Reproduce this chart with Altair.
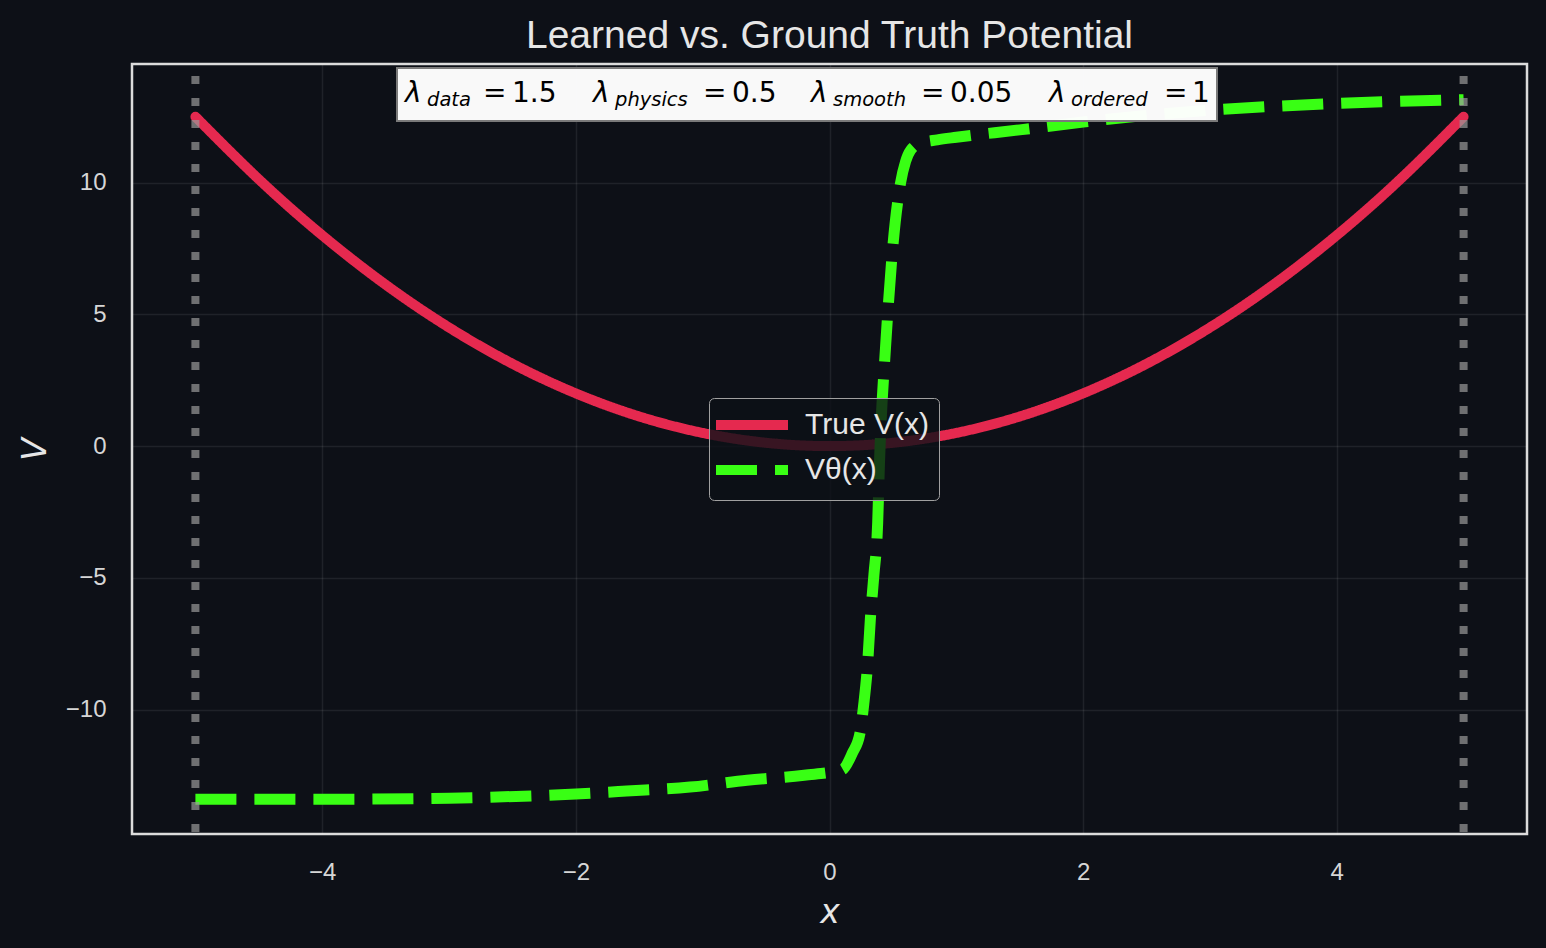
import altair as alt
import pandas as pd

# ---- data ----
true_x = [-5.0, -4.5, -4.0, -3.5, -3.0, -2.5, -2.0, -1.5, -1.0, -0.5, 0.0,
          0.5, 1.0, 1.5, 2.0, 2.5, 3.0, 3.5, 4.0, 4.5, 5.0]
true_v = [12.5, 10.125, 8.0, 6.125, 4.5, 3.125, 2.0, 1.125, 0.5, 0.125, 0.0,
          0.125, 0.5, 1.125, 2.0, 3.125, 4.5, 6.125, 8.0, 10.125, 12.5]

learn_x = [-5.0, -4.0, -3.0, -2.0, -1.6, -1.1, -0.65, -0.2, 0.1, 0.18, 0.24,
           0.27, 0.3, 0.323, 0.35, 0.38, 0.394, 0.442, 0.465, 0.5, 0.56, 0.6,
           0.64, 0.72, 0.85, 1.0, 1.5, 2.0, 3.0, 4.0, 5.0]
learn_v = [-13.4, -13.4, -13.36, -13.2, -13.09, -12.94, -12.68, -12.49, -12.28,
           -11.65, -10.9, -9.8, -8.3, -6.5, -4.9, -2.9, -0.65, 3.76, 5.43, 7.6,
           9.98, 10.8, 11.23, 11.5, 11.62, 11.72, 12.0, 12.3, 12.75, 13.0, 13.15]

boundary_x = [-5.0, 5.0]

series_names = ["True V(x)", "Vθ(x)"]

lambda_names = ["data", "physics", "smooth", "ordered"]
lambda_values = ["1.5", "0.5", "0.05", "1"]

x_ticks = [-4, -2, 0, 2, 4]
y_ticks = [-10, -5, 0, 5, 10]

# ---- styling / layout ----
BG = "#0d1017"
RED = "#e5294f"
GREEN = "#39ff14"
W, H = 1395, 770

df_true = pd.DataFrame({"x": true_x, "v": true_v, "series": series_names[0]})
df_learn = pd.DataFrame({"x": learn_x, "v": learn_v, "series": series_names[1]})
df_bound = pd.DataFrame({"x": boundary_x})

xscale = alt.Scale(domain=[-5.5, 5.5], nice=False, zero=False)
yscale = alt.Scale(domain=[-14.72, 14.5], nice=False, zero=False)

color = alt.Color("series:N",
                  scale=alt.Scale(domain=series_names, range=[RED, GREEN]),
                  legend=alt.Legend(title=None, orient="none", legendX=577, legendY=334,
                                    symbolType="M-3,0H3", symbolSize=576,
                                    symbolOffset=16,
                                    symbolStrokeWidth=10, labelFont="Liberation Sans",
                                    labelFontSize=30, labelColor="#e6e6e6",
                                    labelOffset=36, fillColor="rgba(13,16,23,0.8)",
                                    strokeColor="#a0a0a0",
                                    cornerRadius=5, padding=10, rowPadding=5))
dash = alt.StrokeDash("series:N",
                      scale=alt.Scale(domain=series_names, range=[[1, 0], [41, 18]]),
                      legend=None)

xenc = alt.X("x:Q", scale=xscale,
             axis=alt.Axis(values=x_ticks, title="x", grid=True, format="d"))
yenc = alt.Y("v:Q", scale=yscale,
             axis=alt.Axis(values=y_ticks, title="V", grid=True, format="d"))

red_line = alt.Chart(df_true).mark_line(strokeWidth=10, interpolate="natural",
                                        strokeCap="round").encode(
    x=xenc, y=yenc, color=color, strokeDash=dash)

green_line = alt.Chart(df_learn).mark_line(strokeWidth=11, interpolate="monotone").encode(
    x=alt.X("x:Q", scale=xscale), y=alt.Y("v:Q", scale=yscale), color=color, strokeDash=dash)

bounds = alt.Chart(df_bound).mark_rule(color="#9a9a9a", opacity=0.7, strokeWidth=8,
                                       strokeDash=[8, 14], strokeDashOffset=10).encode(
    x=alt.X("x:Q", scale=xscale))

# annotation box
box = alt.Chart(df_bound).mark_rect(fill="white", fillOpacity=0.84, stroke="#7a7a7a",
                                    strokeWidth=2).encode(
    x=alt.value(265), x2=alt.value(1085), y=alt.value(4), y2=alt.value(57))

lam_x = [273, 461, 679, 917]
eq_x = [351, 571, 789, 1032]
val_x = [380, 600, 818, 1060]
ann_lam = pd.DataFrame({"px": lam_x, "t": ["λ"] * 4})
ann_sub = pd.DataFrame({"px": [p + 22 for p in lam_x], "t": lambda_names})
ann_eq = pd.DataFrame({"px": eq_x, "t": ["="] * 4})
ann_val = pd.DataFrame({"px": val_x, "t": lambda_values})

def txt(df, size, style, base_y):
    return alt.Chart(df).mark_text(font="DejaVu Sans", fontSize=size, fontStyle=style,
                                   align="left", baseline="alphabetic", color="black").encode(
        x=alt.X("px:Q", scale=None), y=alt.value(base_y), text="t:N")

ann = (txt(ann_lam, 28, "italic", 38) + txt(ann_sub, 19.5, "italic", 42)
       + txt(ann_eq, 28, "normal", 38) + txt(ann_val, 28, "normal", 38))

chart = alt.layer(red_line, green_line, bounds, box, ann).properties(
    width=W, height=H,
    background=BG,
    padding={"left": 132, "top": 64, "right": 19, "bottom": 114},
    autosize=alt.AutoSizeParams(type="none"),
    title=alt.TitleParams("Learned vs. Ground Truth Potential", font="Liberation Sans",
                          fontSize=39, fontWeight="normal", color="#e6e6e6",
                          anchor="middle", offset=4),
).configure_view(stroke="#dcdcdc", strokeWidth=2.5, fill=BG).configure_axis(
    domain=False, ticks=False, gridColor="#ffffff", gridOpacity=0.08, gridWidth=1.5,
    labelFont="Liberation Sans", labelFontSize=24, labelColor="#d6d6d6",
    titleFont="DejaVu Sans", titleFontStyle="italic", titleFontSize=33,
    titleFontWeight="normal", titleColor="#e6e6e6",
).configure_axisX(labelPadding=26, titlePadding=12).configure_axisY(
    labelPadding=26, titlePadding=13)

chart.save("out.html", embed_options={"renderer": "svg", "actions": False})
